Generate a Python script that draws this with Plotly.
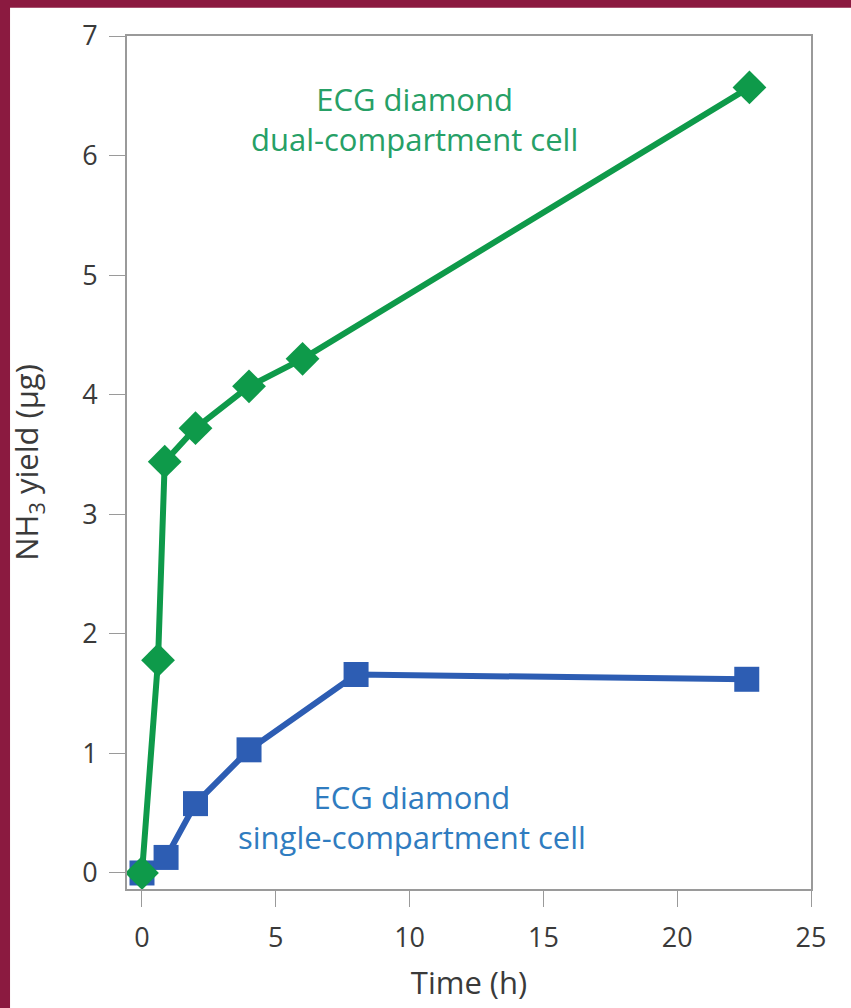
import plotly.graph_objects as go

# Time (h) and NH3 yield (ug)
dual_time = [0, 0.6, 0.85, 2, 4, 6, 22.7]
dual_yield = [0, 1.78, 3.44, 3.72, 4.07, 4.30, 6.57]

single_time = [0, 0.9, 2, 4, 8, 22.6]
single_yield = [0, 0.13, 0.58, 1.03, 1.66, 1.62]

x_ticks = [0, 5, 10, 15, 20, 25]
y_ticks = [0, 1, 2, 3, 4, 5, 6, 7]

GREEN = "#0e9a4a"
BLUE = "#2d5db3"
GREEN_TEXT = "#26a066"
BLUE_TEXT = "#2f7cc0"
MAROON = "#8b1a40"
AXIS = "#9a9a9a"
TEXT = "#3a3a3a"
FONT = "Open Sans, Lato, sans-serif"

fig = go.Figure()

fig.add_trace(go.Scatter(
    x=single_time, y=single_yield, mode="lines+markers",
    line=dict(color=BLUE, width=6),
    marker=dict(symbol="square", size=25, color=BLUE),
    showlegend=False,
))
fig.add_trace(go.Scatter(
    x=dual_time, y=dual_yield, mode="lines+markers",
    line=dict(color=GREEN, width=6),
    marker=dict(symbol="diamond", size=26, color=GREEN),
    showlegend=False,
))

fig.add_annotation(
    x=10.2, y=6.31, xref="x", yref="y",
    text="ECG diamond<br>dual-compartment cell",
    showarrow=False, font=dict(family=FONT, size=31, color=GREEN_TEXT),
)
fig.add_annotation(
    x=10.1, y=0.47, xref="x", yref="y",
    text="ECG diamond<br>single-compartment cell",
    showarrow=False, font=dict(family=FONT, size=31, color=BLUE_TEXT),
)

# maroon frame: paper is maroon, white card covers all but top/left edges
fig.add_shape(
    type="rect", xref="paper", yref="paper",
    x0=-0.171, x1=1.07, y0=-0.15, y1=1.033,
    fillcolor="white", line_width=0, layer="below",
)

fig.update_layout(
    width=851, height=1008,
    margin=dict(l=127, r=40, t=36, b=119),
    paper_bgcolor=MAROON,
    plot_bgcolor="white",
    font=dict(family=FONT, size=27, color=TEXT),
)
fig.update_xaxes(
    range=[-0.56, 25], tickvals=x_ticks, ticks="outside", ticklen=16,
    ticklabelstandoff=8,
    tickcolor=AXIS, showline=True, linecolor=AXIS, linewidth=2, mirror=True,
    showgrid=False, zeroline=False,
    title=dict(text="Time (h)", font=dict(size=31), standoff=18),
)
fig.update_yaxes(
    range=[-0.134, 7], tickvals=y_ticks, ticks="outside", ticklen=16,
    ticklabelstandoff=6,
    tickcolor=AXIS, showline=True, linecolor=AXIS, linewidth=2, mirror=True,
    showgrid=False, zeroline=False,
    title=dict(text="NH<sub>3</sub> yield (μg)", font=dict(size=31), standoff=34),
)

fig.write_html(
    "out.html",
    config={"displayModeBar": False},
    post_script="document.body.style.margin='0';",
)
